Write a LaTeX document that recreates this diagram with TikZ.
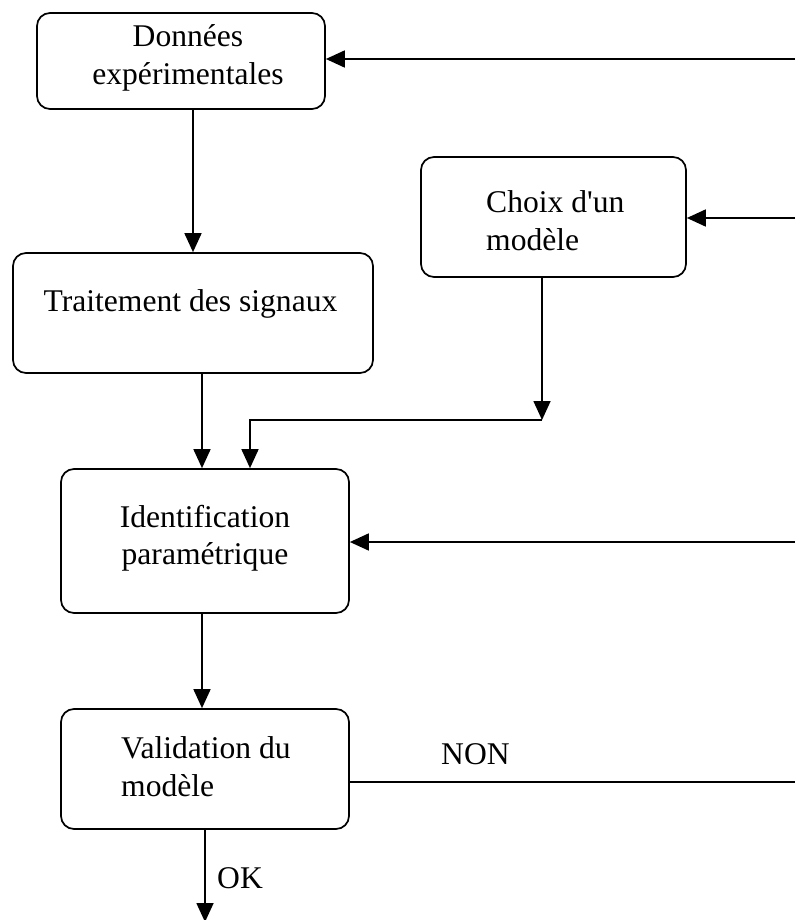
\documentclass[tikz,border=0pt]{standalone}
\usepackage{fontspec}
\setmainfont{Liberation Serif}
\usetikzlibrary{arrows.meta}
\begin{document}
\begin{tikzpicture}[x=1pt,y=-1pt,
  box/.style={draw, line width=1.7pt, rounded corners=13pt, inner sep=0pt},
  txt/.style={inner sep=0pt, font=\fontsize{31.6}{38}\selectfont},
  link/.style={line width=1.7pt},
  arr/.style={link, -{Triangle[length=19pt,width=17pt]}}]
\useasboundingbox (0,0) rectangle (795,920);

% process boxes
\node[box, minimum width=288pt, minimum height=96pt]  (don)   at (181,61)    {};
\node[box, minimum width=360pt, minimum height=120pt] (trait) at (193,313)   {};
\node[box, minimum width=265pt, minimum height=120pt] (choix) at (553.5,217) {};
\node[box, minimum width=288pt, minimum height=144pt] (ident) at (205,541)   {};
\node[box, minimum width=288pt, minimum height=120pt] (valid) at (205,769)   {};

% box texts
\node[txt, anchor=base] (donT) at (188,47)
  {\begin{tabular}[t]{@{}c@{}}Données\\expérimentales\end{tabular}};
\node[txt, anchor=base] (traitT) at (190.5,311) {Traitement des signaux};
\node[txt, anchor=base west] (choixT) at (486,212)
  {\begin{tabular}[t]{@{}l@{}}Choix d\textquotesingle un\\modèle\end{tabular}};
\node[txt, anchor=base, font=\fontsize{31.6}{37}\selectfont] (identT) at (205,527)
  {\begin{tabular}[t]{@{}c@{}}Identification\\paramétrique\end{tabular}};
\node[txt, anchor=base west] (validT) at (121,758)
  {\begin{tabular}[t]{@{}l@{}}Validation du\\modèle\end{tabular}};

% labels on the outgoing branches
\node[txt, anchor=base west] (non) at (441,764) {NON};
\node[txt, anchor=base west] (ok)  at (217,888) {OK};

% loose ends at the right border and bottom
\coordinate (r1) at (795,59);
\coordinate (r2) at (795,218);
\coordinate (r3) at (795,542);
\coordinate (r4) at (795,782);
\coordinate (out) at (205,922);
\coordinate (j) at (542,420);
\coordinate (k) at (250,420);

% main flow
\draw[arr] (don.south -| trait.north) -- (trait.north);
\draw[arr] ([xshift=9pt]trait.south) -- ([xshift=9pt]trait.south |- ident.north);
\draw[arr] (choix.south -| j) -- (j);
\draw[arr] (j) -- (k) -- (k |- ident.north);
\draw[arr] ([xshift=-3pt]ident.south) -- ([xshift=-3pt]valid.north);
\draw[arr] (valid.south) -- (out);

% feedback lines
\draw[arr] (r1) -- (r1 -| don.east);
\draw[arr] (r2) -- (r2 -| choix.east);
\draw[arr] (r3) -- (r3 -| ident.east);
\draw[link] (r4 -| valid.east) -- (r4);
\end{tikzpicture}
\end{document}
